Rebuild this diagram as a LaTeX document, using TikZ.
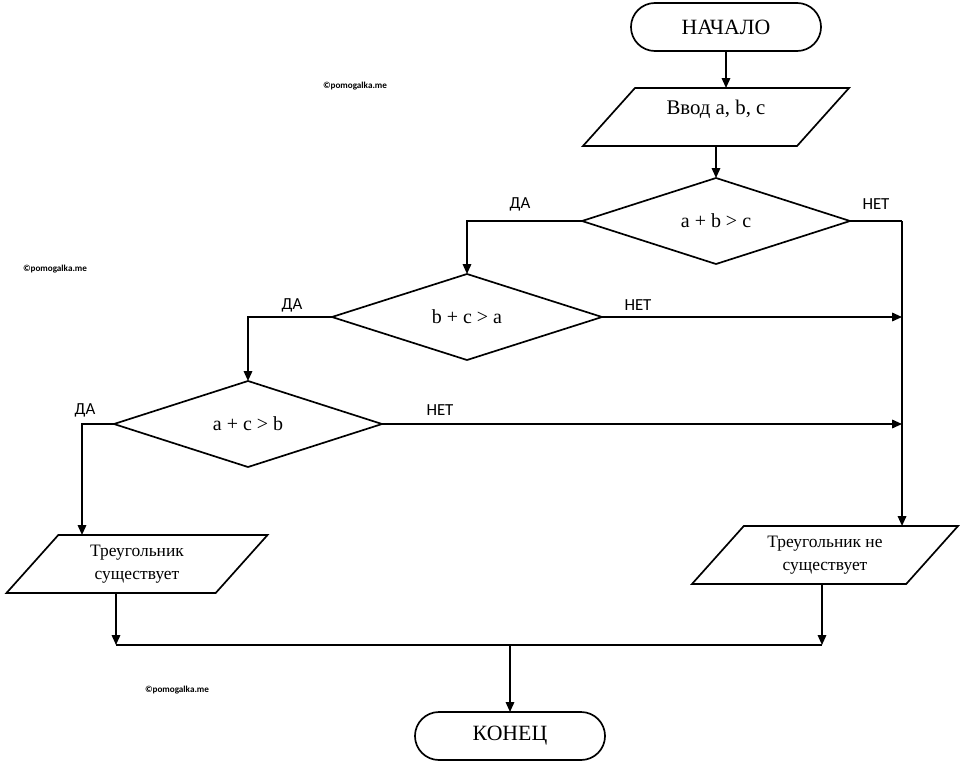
\documentclass[tikz,border=0pt]{standalone}
\usepackage{fontspec}
\setmainfont{Liberation Serif}
\newfontfamily\branchfont{Carlito}
\usepackage{tikz}
\usetikzlibrary{arrows.meta}
\usetikzlibrary{shapes.geometric}
\usetikzlibrary{shapes.misc}
\tikzstyle{block}=[draw, inner sep=0, outer sep=0, align=center]
\tikzstyle{terminal}=[block, rounded rectangle, minimum width=4.75cm, minimum height=1.2cm, font=\fontsize{15.5}{18}\selectfont]
\tikzstyle{io}=[block, trapezium, trapezium left angle=48, trapezium right angle=132, trapezium stretches body=true,
                inner ysep=0.24cm, minimum height=1.45cm, font=\fontsize{12.4}{16.5}\selectfont]
\tikzstyle{decision}=[block, diamond, minimum width=6.7cm, minimum height=2.15cm, font=\fontsize{14.2}{17}\selectfont]
\tikzstyle{branch}=[font=\branchfont\fontsize{12}{14}\selectfont]
\tikzstyle{stamp}=[font=\branchfont\bfseries\fontsize{6.5}{8}\selectfont]
\tikzstyle{flow}=[-{Triangle[length=7pt, width=6pt]}]
\tikzstyle{flowchart}=[x=0.025cm, y=-0.025cm, line width=1.2pt]

\begin{document}
\begin{tikzpicture}[flowchart]
        \useasboundingbox (0,0) rectangle (960,763);
        \node[terminal] (start) at (726,27) {НАЧАЛО};
        \node[io, minimum width=6.65cm, inner ysep=0.3cm, text height=10pt, text depth=14pt,
              font=\fontsize{14.8}{18}\selectfont] (in) at (716,117) {Ввод a, b, c};
        \node[decision] (d1) at (716,221) {a + b > c};
        \node[decision, minimum width=6.75cm] (d2) at (467,317) {b + c > a};
        \node[decision] (d3) at (248,424) {a + c > b};
        \node[io, minimum width=6.525cm] (yes) at (137,564) {Треугольник\\существует};
        \node[io, minimum width=6.65cm] (no) at (825,555) {Треугольник не\\существует};
        \node[terminal] (end) at (510,736) {КОНЕЦ};
        \coordinate (yesin) at (82,424);
        \coordinate (busL) at (116,645);
        \coordinate (busR) at (822,645);
        \draw[flow] (start.south) -- (start.south |- in.north);
        \draw[flow] (in) -- (d1);
        \draw (d1.east) -- ++(52,0) coordinate (rail);
        \draw[flow] (rail) -- (rail |- no.north);
        \draw[flow] (d2.east) -- (d2.east -| rail);
        \draw[flow] (d3.east) -- (d3.east -| rail);
        \draw[flow] (d1.west) -| (d2.north);
        \draw[flow] (d2.west) -| (d3.north);
        \draw[flow] (d3.west) -- (yesin) -- (yesin |- yes.north);
        \draw[flow] (busL |- yes.south) -- (busL);
        \draw[flow] (busR |- no.south) -- (busR);
        \draw (busL) -- (busR);
        \draw[flow] (end.north |- busL) -- (end.north);
        \node[branch] (yes1) at (520,204) {ДА};
        \node[branch] (no1) at (876,204) {НЕТ};
        \node[branch] (yes2) at (292,305) {ДА};
        \node[branch] (no2) at (638,305) {НЕТ};
        \node[branch] (yes3) at (85,410) {ДА};
        \node[branch] (no3) at (440,410) {НЕТ};
        \node[stamp] (wm1) at (355,86) {©pomogalka.me};
        \node[stamp] (wm2) at (55,269) {©pomogalka.me};
        \node[stamp] (wm3) at (177,690) {©pomogalka.me};
    \end{tikzpicture}
\end{document}
